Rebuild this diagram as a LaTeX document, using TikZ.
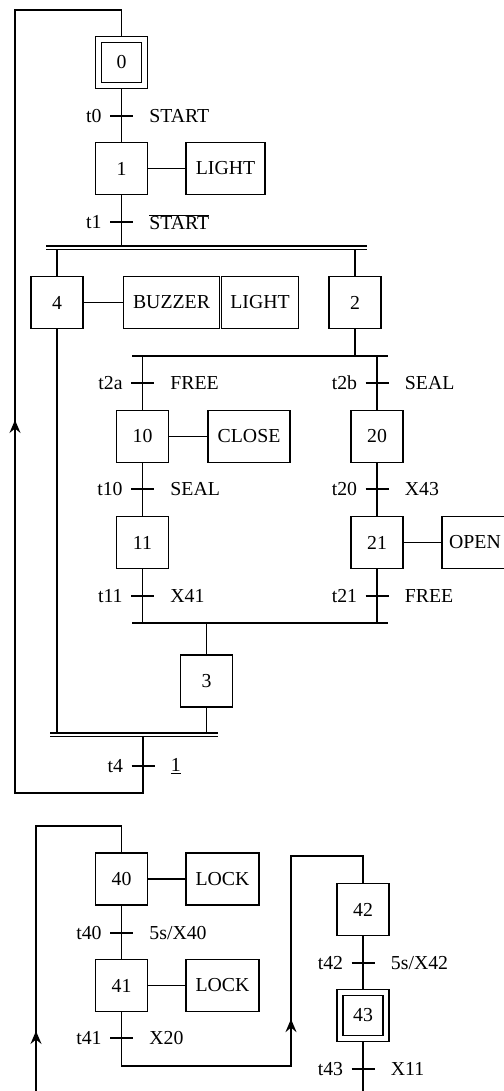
\documentclass[tikz,border=0pt]{standalone}
\usepackage{fontspec}
\setmainfont{Liberation Serif}
\usetikzlibrary{decorations.markings,arrows.meta}
\newcommand{\gtrans}[4]{%
  \coordinate (#1) at (#2);
  \draw ([xshift=-11.5pt]#1) -- ([xshift=11.5pt]#1);
  \node[tlabel, anchor=east] (#1l) at ([xshift=-19pt]#1) {#3};
  \node[tlabel, anchor=west] (#1c) at ([xshift=27pt]#1) {#4};}
\begin{document}
\begin{tikzpicture}[x=1pt, y=-1pt, line width=1.8pt,
  every node/.style={font=\fontsize{19.8}{23}\selectfont},
  stepbox/.style={draw, minimum width=52pt, minimum height=52pt, inner sep=0pt},
  initstep/.style={draw, double, double distance=4.2pt, minimum width=46pt, minimum height=46pt, inner sep=0pt, outer sep=3.9pt},
  action/.style={draw, minimum height=52pt, inner sep=0pt},
  tlabel/.style={inner sep=0pt},
  dbar/.style={double, line width=1.5pt, double distance=2pt},
  arrmark/.style={postaction={decorate}, decoration={markings,
     mark=at position #1 with {\arrow{Stealth[length=13pt,width=11pt,inset=4.5pt]}}}}]
\useasboundingbox (0,0) rectangle (503,1091);

% ---------- upper chart ----------
\node[initstep] (s0) at (121.5,62.5) {0};
\node[stepbox] (s1) at (121.5,168.5) {1};
\node[action, minimum width=79pt] (a1) at (225.5,168.5) {LIGHT};
\gtrans{t0}{121.5,116}{t0}{START}
\gtrans{t1}{121.5,222}{t1}{$\overline{\mbox{START}}$}

\coordinate (d1L) at (46,247.5);
\coordinate (d1R) at (367,247.5);

\node[stepbox] (s4) at (57,302.5) {4};
\node[action, minimum width=96pt] (a4a) at (171.5,302.5) {BUZZER};
\node[action, minimum width=77pt] (a4b) at (260,302.5) {LIGHT};
\node[stepbox] (s2) at (355,302.5) {2};

\coordinate (o1L) at (132,356);
\coordinate (o1R) at (388,356);
\gtrans{t2a}{142.5,383}{t2a}{FREE}
\gtrans{t2b}{377,383}{t2b}{SEAL}

\node[stepbox] (s10) at (142.5,436.5) {10};
\node[action, minimum width=82pt] (a10) at (249,436.5) {CLOSE};
\node[stepbox] (s20) at (377,436.5) {20};
\gtrans{t10}{142.5,489}{t10}{SEAL}
\gtrans{t20}{377,489}{t20}{X43}
\node[stepbox] (s11) at (142.5,542.5) {11};
\node[stepbox] (s21) at (377,542.5) {21};
\node[action, minimum width=66pt] (a21) at (475,542.5) {OPEN};
\gtrans{t11}{142.5,596}{t11}{X41}
\gtrans{t21}{377,596}{t21}{FREE}

\coordinate (o2L) at (132,623);
\coordinate (o2R) at (388,623);
\node[stepbox] (s3) at (206.5,681) {3};
\coordinate (d2L) at (50,734.5);
\coordinate (d2R) at (218,734.5);
\gtrans{t4}{143,766}{t4}{\underline{1}}
\coordinate (r1) at (143,793);
\coordinate (r2) at (15,10);

% connectors
\draw (s0) -- (s1);
\draw (s1) -- (a1);
\draw (s1) -- (s1 |- d1L);
\draw (s4 |- d1L) -- (s4);
\draw (s2 |- d1L) -- (s2);
\draw (s4) -- (a4a);
\draw (s2) -- (s2 |- o1L);
\draw (o1L) -- (o1R);
\draw (s10 |- o1L) -- (s10);
\draw (s20 |- o1L) -- (s20);
\draw (s10) -- (a10);
\draw (s10) -- (s11);
\draw (s20) -- (s21);
\draw (s21) -- (a21);
\draw (s11) -- (s11 |- o2L);
\draw (s21) -- (s21 |- o2L);
\draw (o2L) -- (o2R);
\draw (s3 |- o2L) -- (s3);
\draw (s3) -- (s3 |- d2L);
\draw (s4) -- (s4 |- d2L);
\draw[arrmark=559.5pt] (t4 |- d2L) -- (r1) -| (r2) -| (s0);
\draw[dbar] (d1L) -- (d1R);
\draw[dbar] (d2L) -- (d2R);

% ---------- lower chart ----------
\node[stepbox] (s40) at (121.5,879) {40};
\node[action, minimum width=73pt] (a40) at (222.5,879) {LOCK};
\gtrans{t40}{121.5,933}{t40}{5s/X40}
\node[stepbox] (s41) at (121.5,985.5) {41};
\node[action, minimum width=73pt] (a41) at (222.5,985.5) {LOCK};
\gtrans{t41}{121.5,1038}{t41}{X20}

\node[stepbox] (s42) at (363,909.5) {42};
\gtrans{t42}{363,963}{t42}{5s/X42}
\node[initstep] (s43) at (363,1015.5) {43};
\gtrans{t43}{363,1069}{t43}{X11}

\coordinate (b1) at (36,1091);
\coordinate (b2) at (36,826);
\coordinate (c1) at (121.5,1066);
\coordinate (c2) at (291,856);
\coordinate (e1) at (363,1091);

\draw[arrmark=60pt] (b1) -- (b2) -| (s40);
\draw (s40) -- (a40);
\draw (s40) -- (s41);
\draw (s41) -- (a41);
\draw[arrmark=270pt] (s41) -- (c1) -| (c2) -| (s42);
\draw (s42) -- (s43);
\draw (s43) -- (e1);
\end{tikzpicture}
\end{document}
